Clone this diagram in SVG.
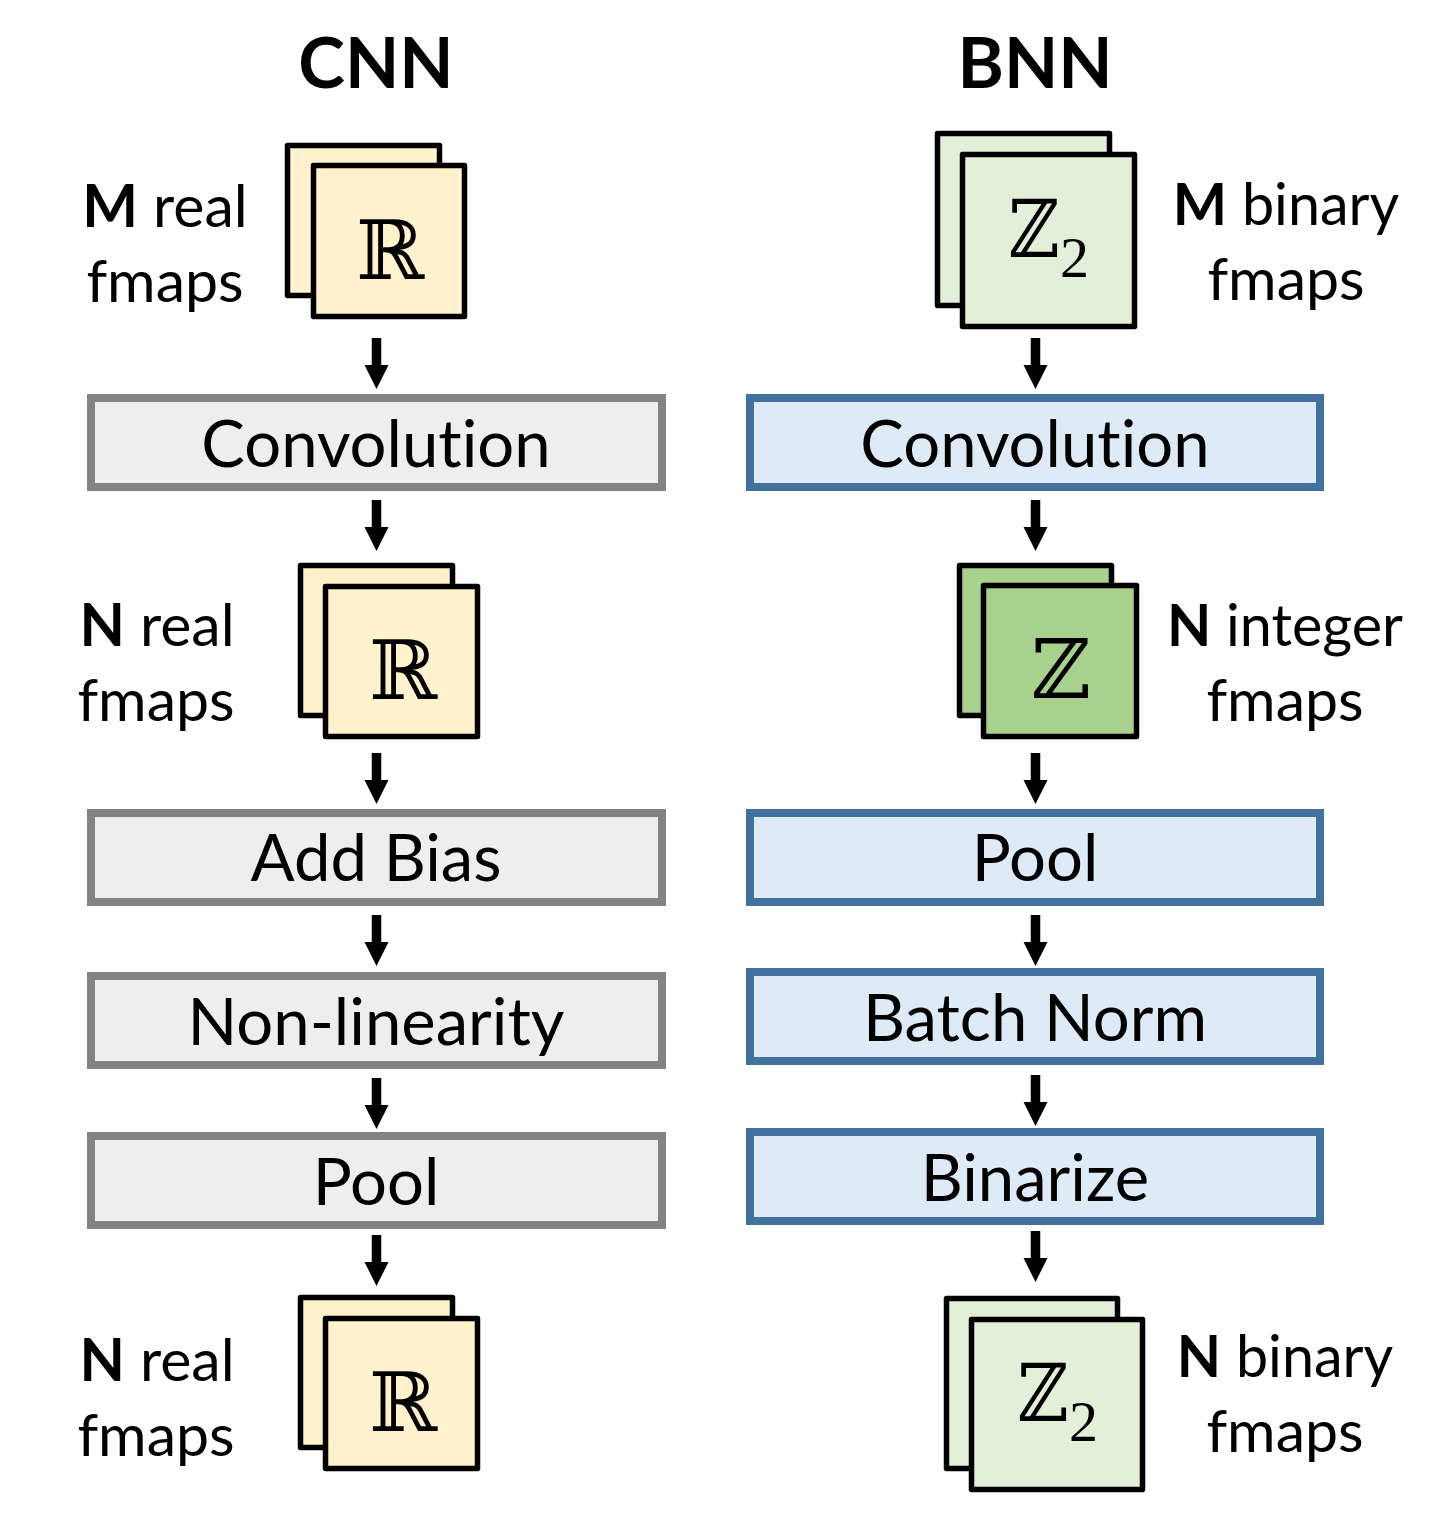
<svg xmlns="http://www.w3.org/2000/svg" width="1440" height="1533" viewBox="0 0 1440 1533">
<defs>
<marker id="ah" markerUnits="userSpaceOnUse" markerWidth="24" markerHeight="25" refX="0" refY="12" orient="auto"><path d="M0 0L24 12L0 24Z" fill="#000"/></marker>
</defs>
<style>
text{font-family:"Lato","Liberation Sans",sans-serif;fill:#000;font-variant-ligatures:none}
.t{font-size:65.2px;text-anchor:middle}
.h{font-size:70.5px;font-weight:700;text-anchor:middle}
.l{font-size:59px;text-anchor:middle}
.l2{font-size:57.5px;text-anchor:middle}
tspan.b{font-weight:700}
.m{font-family:"DejaVu Serif",serif;font-size:82px;text-anchor:middle}
.m2{font-family:"DejaVu Serif",serif;font-size:80px;text-anchor:middle}
.s{font-family:"Liberation Serif",serif;font-size:58px;text-anchor:middle}
.g{fill:#eeeeee;stroke:#838383;stroke-width:8}
.u{fill:#deebf7;stroke:#41719c;stroke-width:8}
.y{fill:#fff2cc;stroke:#000;stroke-width:5.5;stroke-linejoin:round}
.z{fill:#e2f0d9;stroke:#000;stroke-width:5.5;stroke-linejoin:round}
.i{fill:#a9d18e;stroke:#000;stroke-width:5.5;stroke-linejoin:round}
.a{stroke:#000;stroke-width:9.5;fill:none;marker-end:url(#ah)}
</style>
<rect width="1440" height="1533" fill="#fff"/>
<g id="titles"><text class="h" x="376" y="88">CNN</text><text class="h" x="1035" y="88">BNN</text></g>
<g id="connectors">
<line class="a" x1="376.5" y1="338" x2="376.5" y2="365"/>
<line class="a" x1="376.5" y1="500" x2="376.5" y2="527"/>
<line class="a" x1="376.5" y1="753" x2="376.5" y2="780"/>
<line class="a" x1="376.5" y1="915" x2="376.5" y2="942"/>
<line class="a" x1="376.5" y1="1078" x2="376.5" y2="1105"/>
<line class="a" x1="376.5" y1="1235" x2="376.5" y2="1262"/>
<line class="a" x1="1035.5" y1="338" x2="1035.5" y2="365"/>
<line class="a" x1="1035.5" y1="500" x2="1035.5" y2="527"/>
<line class="a" x1="1035.5" y1="753" x2="1035.5" y2="780"/>
<line class="a" x1="1035.5" y1="915" x2="1035.5" y2="942"/>
<line class="a" x1="1035.5" y1="1075" x2="1035.5" y2="1102"/>
<line class="a" x1="1035.5" y1="1231" x2="1035.5" y2="1258"/>
</g>
<g id="cnn-in"><rect class="y" x="287.5" y="145.5" width="152" height="150"/><rect class="y" x="313.5" y="165.5" width="151" height="151"/><text class="m" x="390" y="279">ℝ</text></g>
<g id="cnn-in-label"><text class="l" x="165" y="227"><tspan class="b">M</tspan> real</text><text class="l" x="165" y="302">fmaps</text></g>
<g id="cnn-conv"><rect class="g" x="91" y="398" width="571" height="89"/><text class="t" x="376" y="467">Convolution</text></g>
<g id="cnn-mid"><rect class="y" x="300.5" y="565.5" width="152" height="150"/><rect class="y" x="325.5" y="586.5" width="152" height="150"/><text class="m" x="403" y="699">ℝ</text></g>
<g id="cnn-mid-label"><text class="l" x="157" y="646"><tspan class="b">N</tspan> real</text><text class="l" x="156" y="721">fmaps</text></g>
<g id="cnn-bias"><rect class="g" x="91" y="813" width="571" height="89"/><text class="t" x="376" y="881">Add Bias</text></g>
<g id="cnn-nonlin"><rect class="g" x="91" y="976" width="571" height="89"/><text class="t" x="376" y="1045">Non-linearity</text></g>
<g id="cnn-pool"><rect class="g" x="91" y="1136" width="571" height="89"/><text class="t" x="376" y="1205">Pool</text></g>
<g id="cnn-out"><rect class="y" x="300.5" y="1297.5" width="152" height="150"/><rect class="y" x="325.5" y="1318.5" width="152" height="150"/><text class="m" x="403" y="1431">ℝ</text></g>
<g id="cnn-out-label"><text class="l" x="157" y="1381"><tspan class="b">N</tspan> real</text><text class="l" x="156" y="1456">fmaps</text></g>
<g id="bnn-in"><rect class="z" x="937.5" y="133.5" width="172" height="172"/><rect class="z" x="962.5" y="154.5" width="172" height="172"/><text class="m2" transform="translate(1034 257) scale(.88 1)">ℤ</text><text class="s" x="1074.500" y="277">2</text></g>
<g id="bnn-in-label"><text class="l2" x="1286" y="225"><tspan class="b">M</tspan> binary</text><text class="l" x="1286" y="300">fmaps</text></g>
<g id="bnn-conv"><rect class="u" x="750" y="398" width="570" height="89"/><text class="t" x="1035" y="467">Convolution</text></g>
<g id="bnn-mid"><rect class="i" x="959.5" y="565.5" width="152" height="150"/><rect class="i" x="983.5" y="585.5" width="153" height="151"/><text class="m" x="1061" y="698">ℤ</text></g>
<g id="bnn-mid-label"><text class="l2" x="1285" y="646"><tspan class="b">N</tspan> integer</text><text class="l" x="1285" y="721">fmaps</text></g>
<g id="bnn-pool"><rect class="u" x="750" y="813" width="570" height="89"/><text class="t" x="1035" y="881">Pool</text></g>
<g id="bnn-norm"><rect class="u" x="750" y="972" width="570" height="89"/><text class="t" x="1035" y="1041">Batch Norm</text></g>
<g id="bnn-bin"><rect class="u" x="750" y="1132" width="570" height="89"/><text class="t" x="1035" y="1201">Binarize</text></g>
<g id="bnn-out"><rect class="z" x="946.5" y="1298.5" width="171" height="170"/><rect class="z" x="971.5" y="1319.5" width="171" height="170"/><text class="m2" transform="translate(1043 1421) scale(.88 1)">ℤ</text><text class="s" x="1083.500" y="1441">2</text></g>
<g id="bnn-out-label"><text class="l2" x="1285" y="1377"><tspan class="b">N</tspan> binary</text><text class="l" x="1285" y="1452">fmaps</text></g>
</svg>
